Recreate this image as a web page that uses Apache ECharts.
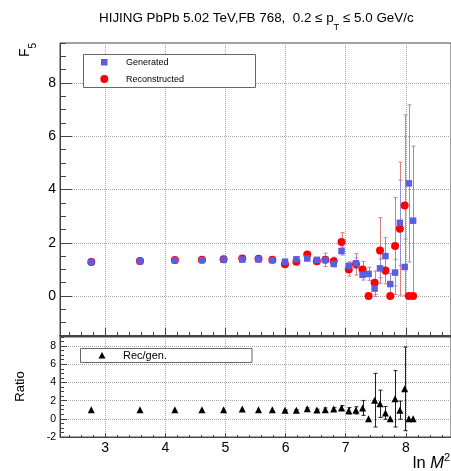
<!DOCTYPE html>
<html><head><meta charset="utf-8">
<script src="https://cdn.jsdelivr.net/npm/echarts@6/dist/echarts.min.js"></script>
<style>html,body{margin:0;padding:0;background:#fff}#c{width:451px;height:471px}</style>
</head><body><div id="c"></div>
<script>
// ---- data ----
const lnM2 = [2.77, 3.58, 4.16, 4.61, 4.97, 5.28, 5.55, 5.78, 5.99, 6.18, 6.36, 6.52, 6.66, 6.80,
              6.93, 7.05, 7.17, 7.28, 7.38, 7.48, 7.57, 7.66, 7.74, 7.82, 7.90, 7.98, 8.05, 8.12];
const generated = [1.28, 1.31, 1.34, 1.35, 1.37, 1.37, 1.38, 1.35, 1.29, 1.38, 1.41, 1.36, 1.36, 1.21,
                   1.69, 1.13, 1.23, 0.80, 0.83, 0.28, 1.04, 1.50, 0.45, 0.88, 2.75, 1.09, 4.23, 2.83];
const generatedErr = [0.02, 0.02, 0.02, 0.02, 0.02, 0.02, 0.03, 0.03, 0.05, 0.06, 0.06, 0.08, 0.10, 0.12,
                      0.15, 0.15, 0.20, 0.20, 0.25, 0.30, 0.35, 0.69, 0.40, 0.50, 1.60, 1.05, 2.95, 2.80];
const reconstructed = [1.28, 1.32, 1.35, 1.36, 1.38, 1.41, 1.40, 1.36, 1.19, 1.29, 1.56, 1.31, 1.36, 1.31,
                       2.03, 1.00, 1.19, 1.00, 0.00, 0.50, 1.71, 0.96, 0.00, 1.88, 2.53, 3.40, 0.00, 0.00];
const reconstructedErr = [0.03, 0.03, 0.03, 0.03, 0.03, 0.04, 0.04, 0.05, 0.06, 0.08, 0.10, 0.10, 0.25, 0.15,
                          0.35, 0.25, 0.40, 0.30, 0.00, 0.44, 1.23, 0.50, 0.00, 1.82, 2.50, 3.40, 0.00, 0.00];
const ratio = [1.00, 1.00, 1.00, 1.00, 1.00, 1.08, 1.00, 1.00, 0.93, 0.93, 1.10, 0.96, 1.00, 1.07,
               1.20, 0.88, 0.93, 1.20, 0.00, 2.05, 1.65, 0.65, 0.00, 2.20, 0.95, 3.30, 0.00, 0.00];
const ratioErr = [0.03, 0.03, 0.03, 0.03, 0.03, 0.04, 0.04, 0.05, 0.06, 0.08, 0.10, 0.10, 0.20, 0.15,
                  0.25, 0.35, 0.40, 0.82, 0.00, 2.95, 1.50, 0.70, 0.00, 3.10, 1.00, 4.60, 0.00, 0.00];

// ---- ticks ----
const xTicks = [3, 4, 5, 6, 7, 8];
const xMinorTicks = [2.4, 2.6, 2.8, 3.2, 3.4, 3.6, 3.8, 4.2, 4.4, 4.6, 4.8, 5.2, 5.4, 5.6, 5.8,
                     6.2, 6.4, 6.6, 6.8, 7.2, 7.4, 7.6, 7.8, 8.2, 8.4, 8.6];
const f5Ticks = [0, 2, 4, 6, 8];
const f5MinorTicks = [-1.5, -1, -0.5, 0.5, 1, 1.5, 2.5, 3, 3.5, 4.5, 5, 5.5, 6.5, 7, 7.5, 8.5, 9, 9.5];
const ratioTicks = [-2, 0, 2, 4, 6, 8];
const ratioMinorTicks = [-1.5, -1, -0.5, 0.5, 1, 1.5, 2.5, 3, 3.5, 4.5, 5, 5.5, 6.5, 7, 7.5, 8.5, 9];

const FONT = 'Liberation Sans, Arial, Helvetica, sans-serif';
const GRIDC = '#a8a8a8';
const AXC = '#444';

function errSeries(xi, yi, vals, errs, color, cap, z) {
  return {
    type: 'custom', xAxisIndex: xi, yAxisIndex: yi, silent: true, z: z, clip: true,
    data: lnM2.map((x, i) => [x, vals[i] - errs[i], vals[i] + errs[i]]),
    encode: { x: 0, y: [1, 2] },
    renderItem: (params, api) => {
      const lo = api.coord([api.value(0), api.value(1)]);
      const hi = api.coord([api.value(0), api.value(2)]);
      if (lo[1] - hi[1] < 1) return null;
      const st = { stroke: color, lineWidth: 1 };
      const x = Math.round(lo[0]) + 0.5;
      return { type: 'group', children: [
        { type: 'line', shape: { x1: x, y1: lo[1], x2: x, y2: hi[1] }, style: st },
        { type: 'line', shape: { x1: x - cap, y1: hi[1], x2: x + cap, y2: hi[1] }, style: st },
        { type: 'line', shape: { x1: x - cap, y1: lo[1], x2: x + cap, y2: lo[1] }, style: st }
      ]};
    }
  };
}

function xAx(grid, major, labels, len) {
  return {
    type: 'value', gridIndex: grid, min: 2.25, max: 8.75, position: 'bottom',
    axisLine: { show: major, onZero: false, lineStyle: { color: AXC, width: grid === 0 ? 2 : 1 } },
    axisTick: { show: true, inside: true, length: len, customValues: major ? xTicks : xMinorTicks,
                lineStyle: { color: AXC } },
    axisLabel: { show: labels, customValues: xTicks, margin: 4, color: '#000', fontSize: 14, fontFamily: FONT },
    splitLine: { show: major, lineStyle: { color: GRIDC, type: [1, 1] } }
  };
}
function yAx(grid, major, min, max, ticks, minor, len, fs) {
  return {
    type: 'value', gridIndex: grid, min: min, max: max, position: 'left',
    axisLine: { show: major, onZero: false, lineStyle: { color: AXC } },
    axisTick: { show: true, inside: true, length: len, customValues: major ? ticks : minor,
                lineStyle: { color: AXC } },
    axisLabel: { show: major, customValues: ticks, margin: 4, color: '#000', fontSize: fs, fontFamily: FONT },
    splitLine: { show: major, lineStyle: { color: GRIDC, type: [1, 1] } }
  };
}

const chart = echarts.init(document.getElementById('c'), null, { renderer: 'canvas' });
chart.setOption({
  animation: false,
  backgroundColor: '#fff',
  title: {
    text: '{a|HIJING PbPb 5.02 TeV,FB 768,  0.2 \u2264 p}{s|T}{a| \u2264 5.0 GeV/c}',
    left: 94, top: 7,
    textStyle: {
      fontWeight: 'normal',
      rich: {
        a: { fontFamily: FONT, fontSize: 13.4, fontWeight: 'normal', color: '#000', lineHeight: 20, verticalAlign: 'top' },
        s: { fontFamily: FONT, fontSize: 9.3, fontWeight: 'normal', color: '#000', lineHeight: 6, verticalAlign: 'bottom' }
      }
    }
  },
  grid: [
    { left: 60, top: 43, width: 395, height: 293, show: true, borderColor: AXC, borderWidth: 1, backgroundColor: 'transparent' },
    { left: 60, top: 337, width: 395, height: 100, show: true, borderColor: AXC, borderWidth: 1, backgroundColor: 'transparent' }
  ],
  xAxis: [
    xAx(0, true, false, 8),
    xAx(0, false, false, 4),
    xAx(1, true, true, 4),
    xAx(1, false, false, 2)
  ],
  yAxis: [
    yAx(0, true, -1.5, 9.5, f5Ticks, f5MinorTicks, 12, 14),
    yAx(0, false, -1.5, 9.5, f5Ticks, f5MinorTicks, 6, 14),
    yAx(1, true, -2, 9, ratioTicks, ratioMinorTicks, 7, 10.5),
    yAx(1, false, -2, 9, ratioTicks, ratioMinorTicks, 4, 10.5)
  ],
  series: [
    errSeries(0, 0, reconstructed, reconstructedErr, '#e27d7d', 2, 2),
    errSeries(0, 0, generated, generatedErr, '#8f8fdc', 2, 2),
    {
      name: 'Reconstructed', type: 'scatter', xAxisIndex: 0, yAxisIndex: 0, z: 3,
      symbol: 'circle', symbolSize: 8, itemStyle: { color: '#ff0000', opacity: 1 },
      data: lnM2.map((x, i) => [x, reconstructed[i]])
    },
    {
      name: 'Generated', type: 'scatter', xAxisIndex: 0, yAxisIndex: 0, z: 4,
      symbol: 'rect', symbolSize: 6.5, itemStyle: { color: '#5d5de0', opacity: 1 },
      data: lnM2.map((x, i) => [x, generated[i]])
    },
    errSeries(2, 2, ratio, ratioErr, '#222', 2, 2),
    {
      name: 'Rec/gen.', type: 'scatter', xAxisIndex: 2, yAxisIndex: 2, z: 3,
      symbol: 'triangle', symbolSize: 7, itemStyle: { color: '#000', opacity: 1 },
      data: lnM2.map((x, i) => [x, ratio[i]])
    }
  ],
  graphic: [
    // main legend
    { type: 'rect', z: 10, shape: { x: 83.5, y: 54.5, width: 172, height: 33 },
      style: { fill: '#fff', stroke: '#666', lineWidth: 1 } },
    { type: 'rect', z: 11, shape: { x: 101, y: 59, width: 6.5, height: 6.5 }, style: { fill: '#5d5de0' } },
    { type: 'circle', z: 11, shape: { cx: 104.3, cy: 79, r: 4 }, style: { fill: '#ff0000' } },
    { type: 'text', z: 11, x: 126, y: 62.5,
      style: { text: 'Generated', font: '9px ' + FONT, fill: '#000', verticalAlign: 'middle' } },
    { type: 'text', z: 11, x: 126, y: 79.5,
      style: { text: 'Reconstructed', font: '9px ' + FONT, fill: '#000', verticalAlign: 'middle' } },
    // ratio legend
    { type: 'rect', z: 10, shape: { x: 80.5, y: 348.5, width: 171.5, height: 14 },
      style: { fill: '#fff', stroke: '#666', lineWidth: 1 } },
    { type: 'polygon', z: 11, shape: { points: [[102, 352], [98.5, 358.5], [105.5, 358.5]] }, style: { fill: '#000' } },
    { type: 'text', z: 11, x: 123, y: 355.5,
      style: { text: 'Rec/gen.', font: '11px ' + FONT, fill: '#000', verticalAlign: 'middle' } },
    // axis titles
    { type: 'text', z: 11, x: 28, y: 50, rotation: Math.PI / 2,
      style: { text: '{f|F}{s|5}', align: 'center', verticalAlign: 'middle',
        rich: { f: { fontFamily: FONT, fontSize: 14, fill: '#000', lineHeight: 20, verticalAlign: 'top' },
                s: { fontFamily: FONT, fontSize: 10, fill: '#000', lineHeight: 6, verticalAlign: 'bottom' } } } },
    { type: 'text', z: 11, x: 20, y: 386.5, rotation: Math.PI / 2,
      style: { text: 'Ratio', font: '13px ' + FONT, fill: '#000', align: 'center', verticalAlign: 'middle' } },
    { type: 'text', z: 11, x: 450, y: 462,
      style: { text: '{a|ln }{m|M}{s|2}', align: 'right', verticalAlign: 'middle',
        rich: { a: { fontFamily: FONT, fontSize: 16.5, fill: '#000', lineHeight: 20, verticalAlign: 'bottom' },
                m: { fontFamily: FONT, fontSize: 16.5, fontStyle: 'italic', fill: '#000', lineHeight: 20, verticalAlign: 'bottom' },
                s: { fontFamily: FONT, fontSize: 11, fill: '#000', lineHeight: 8, verticalAlign: 'top' } } } }
  ]
});
</script>
</body></html>
